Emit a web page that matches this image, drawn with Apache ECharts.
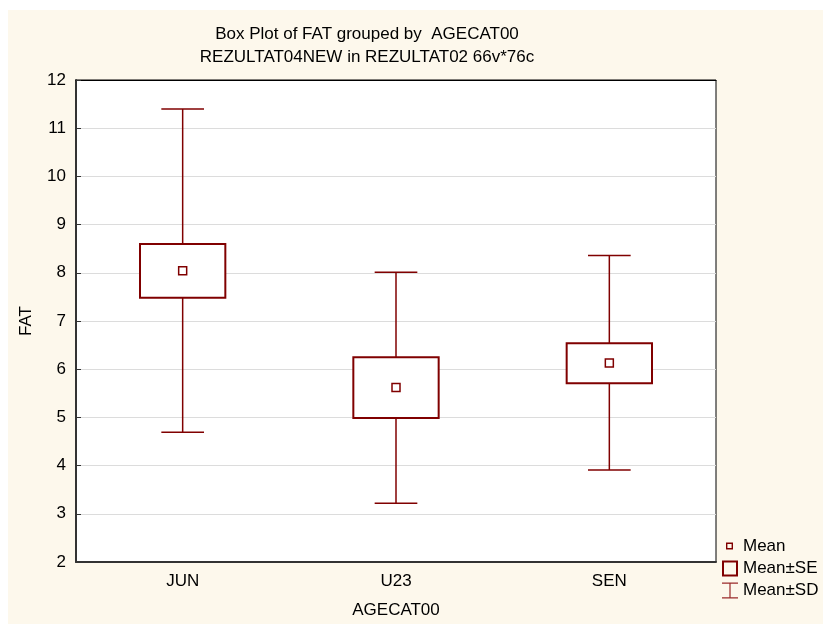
<!DOCTYPE html>
<html>
<head>
<meta charset="utf-8">
<script src="https://cdn.jsdelivr.net/npm/echarts@6/dist/echarts.min.js"></script>
<style>html,body{margin:0;padding:0;background:#fff;overflow:hidden}#c{width:823px;height:624px}</style>
</head>
<body>
<div id="c"></div>
<script>
var categories = ['JUN', 'U23', 'SEN'];
var meanVals = [8.04, 5.62, 6.13];
var seLow = [7.48, 4.99, 5.71];
var seHigh = [8.60, 6.25, 6.54];
var sdLow = [4.69, 3.22, 3.91];
var sdHigh = [11.40, 8.01, 8.36];
var yTicks = [2, 3, 4, 5, 6, 7, 8, 9, 10, 11, 12];

var RED = '#800000';
var FONT = 'Liberation Sans, Arial, sans-serif';
var FS = 17;

var boxData = categories.map(function (c, i) { return [i, seLow[i], seHigh[i]]; });
var sdData = categories.map(function (c, i) { return [i, sdLow[i], sdHigh[i]]; });
var meanData = categories.map(function (c, i) { return [i, meanVals[i]]; });

var chart = echarts.init(document.getElementById('c'), null, {renderer: 'canvas', width: 823, height: 624});
chart.setOption({
  backgroundColor: '#ffffff',
  animation: false,
  textStyle: {fontFamily: FONT},
  graphic: [{
    type: 'rect', z: -10, silent: true,
    shape: {x: 8, y: 10, width: 815, height: 614},
    style: {fill: '#FDF8EC'}
  }],
  title: {
    text: 'Box Plot of FAT grouped by  AGECAT00\nREZULTAT04NEW in REZULTAT02 66v*76c',
    left: 367, top: 23, textAlign: 'center', padding: 0,
    textStyle: {fontFamily: FONT, fontSize: FS, fontWeight: 'normal', color: '#000', lineHeight: 23}
  },
  legend: {
    orient: 'vertical', left: 722, top: 538, padding: 0,
    itemWidth: 16, itemHeight: 16, itemGap: 5,
    textStyle: {fontFamily: FONT, fontSize: FS, color: '#000'},
    data: [
      {name: 'Mean', icon: 'path://M0,0M16,16M4,4H11V11H4ZM5.4,5.4V9.6H9.6V5.4Z', itemStyle: {color: RED, borderWidth: 0}},
      {name: 'Mean\u00b1SE', icon: 'path://M0,0H16V16H0ZM2,2V14H14V2Z', itemStyle: {color: RED, borderWidth: 0}},
      {name: 'Mean\u00b1SD', icon: 'path://M0,0H16V1.3H8.6V14.7H16V16H0V14.7H7.4V1.3H0Z', itemStyle: {color: '#9a2a2a', borderWidth: 0}}
    ]
  },
  grid: {left: 76, right: 107, top: 80, bottom: 59, show: true, backgroundColor: '#ffffff', borderColor: '#000', borderWidth: 1},
  xAxis: [{
    type: 'category', data: categories, position: 'bottom',
    name: 'AGECAT00', nameLocation: 'middle', nameGap: 40,
    nameTextStyle: {fontFamily: FONT, fontSize: FS, color: '#000'},
    axisLine: {lineStyle: {color: '#333', width: 2}},
    axisTick: {inside: true, length: 5, alignWithLabel: true, lineStyle: {color: '#333'}},
    axisLabel: {fontFamily: FONT, fontSize: FS, color: '#000', margin: 11},
    splitLine: {show: false}
  }, {
    type: 'category', data: categories, position: 'top',
    axisLine: {lineStyle: {color: '#000', width: 1}},
    axisTick: {inside: true, length: 5, alignWithLabel: true, lineStyle: {color: '#333'}},
    axisLabel: {show: false}, splitLine: {show: false}
  }],
  yAxis: {
    type: 'value', min: 2, max: 12, interval: 1,
    name: 'FAT', nameLocation: 'middle', nameGap: 41,
    nameTextStyle: {fontFamily: FONT, fontSize: FS, color: '#000'},
    axisLine: {show: true, lineStyle: {color: '#333', width: 2}},
    axisTick: {show: true, inside: true, length: 5, lineStyle: {color: '#333'}},
    axisLabel: {fontFamily: FONT, fontSize: FS, color: '#000', margin: 10,
      formatter: function (v) { return yTicks.indexOf(v) >= 0 ? String(v) : ''; }},
    splitLine: {show: true, lineStyle: {color: '#dcdcdc', width: 1}}
  },
  series: [{
    name: 'Mean\u00b1SD', type: 'custom', z: 2,
    itemStyle: {color: RED},
    data: sdData,
    encode: {x: 0, y: [1, 2]},
    renderItem: function (params, api) {
      var x = api.coord([api.value(0), 0])[0];
      var yl = api.coord([api.value(0), api.value(1)])[1];
      var yh = api.coord([api.value(0), api.value(2)])[1];
      var band = api.size([1, 0])[0];
      var hw = band * 0.1;
      var st = {stroke: RED, lineWidth: 1.5, fill: null};
      return {type: 'group', children: [
        {type: 'line', shape: {x1: x, y1: yl, x2: x, y2: yh}, style: st},
        {type: 'line', shape: {x1: x - hw, y1: yl, x2: x + hw, y2: yl}, style: st},
        {type: 'line', shape: {x1: x - hw, y1: yh, x2: x + hw, y2: yh}, style: st}
      ]};
    }
  }, {
    name: 'Mean\u00b1SE', type: 'custom', z: 3,
    itemStyle: {color: RED},
    data: boxData,
    encode: {x: 0, y: [1, 2]},
    renderItem: function (params, api) {
      var x = api.coord([api.value(0), 0])[0];
      var yl = api.coord([api.value(0), api.value(1)])[1];
      var yh = api.coord([api.value(0), api.value(2)])[1];
      var band = api.size([1, 0])[0];
      var hw = band * 0.2;
      return {type: 'rect', shape: {x: x - hw, y: yh, width: hw * 2, height: yl - yh},
        style: {fill: '#fff', stroke: RED, lineWidth: 2}};
    }
  }, {
    name: 'Mean', type: 'custom', z: 4,
    itemStyle: {color: RED},
    data: meanData,
    encode: {x: 0, y: 1},
    renderItem: function (params, api) {
      var p = api.coord([api.value(0), api.value(1)]);
      return {type: 'rect', shape: {x: p[0] - 4, y: p[1] - 4, width: 8, height: 8},
        style: {fill: '#fff', stroke: RED, lineWidth: 1.5}};
    }
  }]
});
</script>
</body>
</html>
